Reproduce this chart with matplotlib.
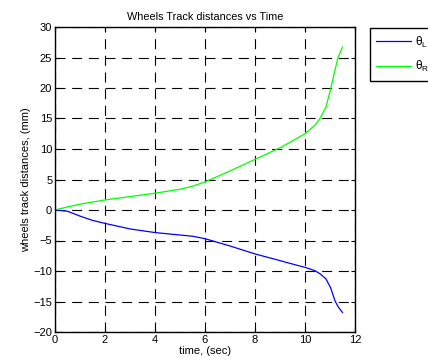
import matplotlib
matplotlib.use('Agg')
import matplotlib.pyplot as plt

matplotlib.rcParams['font.family'] = 'Liberation Sans'
matplotlib.rcParams['mathtext.fontset'] = 'custom'
matplotlib.rcParams['mathtext.rm'] = 'Liberation Sans'
matplotlib.rcParams['mathtext.it'] = 'Liberation Sans'

# time samples (sec)
t = [0, 0.5, 1, 1.5, 2, 3, 4, 5, 5.5, 6, 7, 8, 9, 9.4, 10,
     10.4, 10.6, 10.84, 11.03, 11.2, 11.33, 11.5]
# right wheel track distance (mm)
theta_r = [0, 0.5, 0.95, 1.3, 1.65, 2.2, 2.75, 3.4, 3.9, 4.6, 6.4, 8.3, 10.2, 11.1, 12.5,
           13.9, 15.0, 16.9, 19.9, 23.0, 25.1, 26.7]
# left wheel track distance (mm)
theta_l = [0, -0.2, -1.0, -1.7, -2.2, -3.1, -3.7, -4.1, -4.3, -4.7, -5.9, -7.2, -8.3, -8.75, -9.4,
           -9.95, -10.45, -11.3, -12.8, -14.9, -15.9, -16.8]

fig = plt.figure(figsize=(4.28, 3.64), dpi=100)
ax = fig.add_axes([55 / 428, 1 - 332 / 364, 300 / 428, 305 / 364])

l1, = ax.plot(t, theta_l, color='#0000ff', linewidth=0.9)
l2, = ax.plot(t, theta_r, color='#00ff00', linewidth=0.9)

ax.set_xlim(0, 12)
ax.set_ylim(-20, 30)
ax.set_xticks(range(0, 13, 2))
ax.set_yticks(range(-20, 31, 5))
ax.grid(True, color='black', linestyle=(0, (9, 6)), linewidth=0.8)
ax.tick_params(direction='in', length=3, labelsize=8, top=True, right=True, pad=2)
for s in ax.spines.values():
    s.set_linewidth(1.0)

ax.set_title('Wheels Track distances vs Time', fontsize=7.8, pad=5)
ax.set_xlabel('time, (sec)', fontsize=8, labelpad=1)
ax.set_ylabel('wheels track distances, (mm)', fontsize=8, labelpad=2)

leg = fig.legend([l1, l2], [r'$\theta_{L}$', r'$\theta_{R}$'],
                 loc='upper left', bbox_to_anchor=(370 / 428, 1 - 28 / 364),
                 fancybox=False, edgecolor='black', fontsize=8.5,
                 handlelength=2.9, handletextpad=0.35, labelspacing=0.8,
                 borderpad=0.55, borderaxespad=0, framealpha=1)
leg.get_frame().set_linewidth(1.0)

fig.savefig('out.png', dpi=100)
